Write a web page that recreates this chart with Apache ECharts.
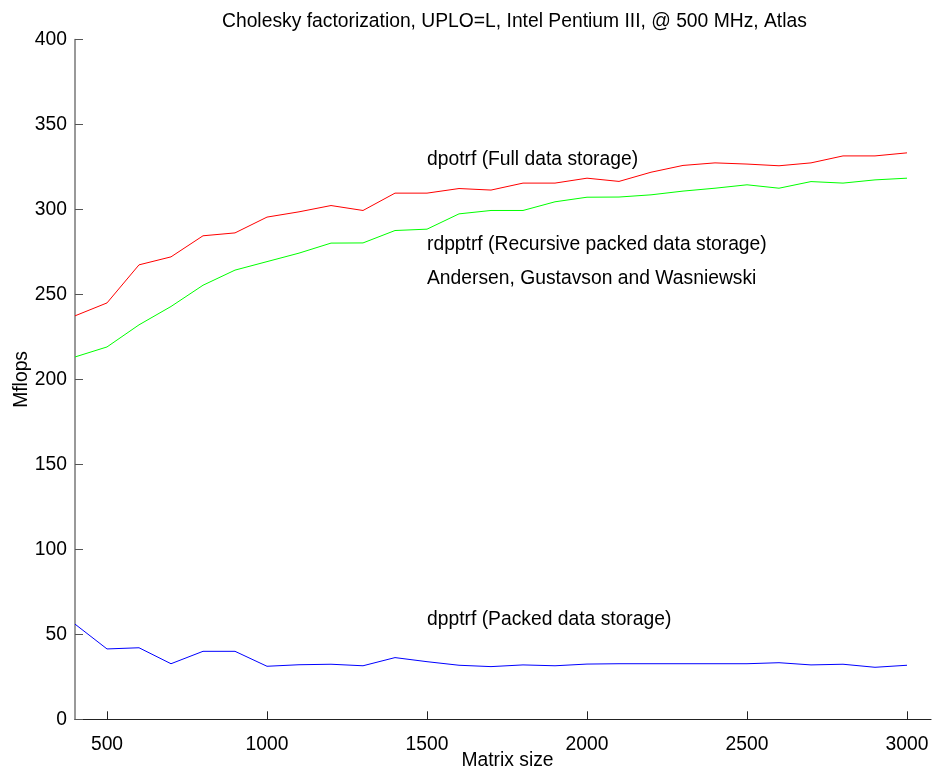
<!DOCTYPE html>
<html>
<head>
<meta charset="utf-8">
<script src="https://cdn.jsdelivr.net/npm/echarts@6/dist/echarts.min.js"></script>
<style>html,body{margin:0;padding:0;background:#fff;}#c{width:932px;height:770px;}</style>
</head>
<body>
<div id="c"></div>
<script>
const matrixSizes = [400,500,600,700,800,900,1000,1100,1200,1300,1400,1500,1600,1700,1800,1900,2000,2100,2200,2300,2400,2500,2600,2700,2800,2900,3000];
const dpotrf = [237.4,245.0,267.4,272.1,284.5,286.2,295.5,298.6,302.3,299.4,309.6,309.6,312.3,311.4,315.5,315.5,318.4,316.5,321.9,325.9,327.4,326.7,325.7,327.4,331.5,331.5,333.3];
const rdpptrf = [213.2,219.1,232.1,242.9,255.4,264.3,269.3,274.3,280.2,280.3,287.6,288.4,297.4,299.4,299.4,304.5,307.2,307.3,308.6,310.8,312.5,314.5,312.5,316.4,315.5,317.4,318.4];
const dpptrf = [56.0,41.4,42.1,32.7,40.0,40.0,31.2,32.1,32.4,31.5,36.3,33.9,31.8,31.0,32.0,31.5,32.5,32.7,32.7,32.7,32.7,32.7,33.3,32.0,32.4,30.6,31.8];
const xTicks = [500,1000,1500,2000,2500,3000];
const yTicks = [0,50,100,150,200,250,300,350,400];
const annotations = [
  {x:1500, y:329.5, text:'dpotrf (Full data storage)'},
  {x:1500, y:279.5, text:'rdpptrf (Recursive packed data storage)'},
  {x:1500, y:259.0, text:'Andersen, Gustavson and Wasniewski'},
  {x:1500, y:58.5, text:'dpptrf (Packed data storage)'}
];
const titleText = 'Cholesky factorization, UPLO=L, Intel Pentium III, @ 500 MHz, Atlas';

const FONT = 'Liberation Sans, Arial, Helvetica, sans-serif';
const FS = 19.3;
const chart = echarts.init(document.getElementById('c'), null, {renderer:'canvas'});
const pair = arr => matrixSizes.map((x,i)=>[x,arr[i]]);
chart.setOption({
  animation:false,
  backgroundColor:'#fff',
  title:{text:titleText, left:217, top:7, textStyle:{fontFamily:FONT, fontSize:FS, fontWeight:'normal', color:'#000'}},
  grid:{left:75, right:1, top:39.5, bottom:50.7, containLabel:false, outerBoundsMode:'none'},
  xAxis:{type:'value', min:400, max:3075,
    name:'Matrix size', nameLocation:'middle', nameGap:32, nameMoveOverlap:false,
    nameTextStyle:{fontFamily:FONT, fontSize:FS, color:'#000', padding:[0,0,0,9]},
    axisLine:{show:true, lineStyle:{color:'#222', width:1.2}},
    axisTick:{show:true, inside:true, length:8, customValues:xTicks, lineStyle:{color:'#222'}},
    axisLabel:{customValues:xTicks, formatter:v=>String(v), fontFamily:FONT, fontSize:FS, color:'#000', margin:16},
    splitLine:{show:false}},
  yAxis:{type:'value', min:0, max:400, interval:50,
    name:'Mflops', nameLocation:'middle', nameGap:44, nameRotate:90, nameMoveOverlap:false,
    nameTextStyle:{fontFamily:FONT, fontSize:FS, color:'#000'},
    axisLine:{show:true, lineStyle:{color:'#777', width:1.5}},
    axisTick:{show:true, inside:true, length:8, lineStyle:{color:'#555'}},
    axisLabel:{formatter:v=>String(v), fontFamily:FONT, fontSize:FS, color:'#000', margin:8},
    splitLine:{show:false}},
  series:[
    {type:'line', data:pair(dpotrf), symbol:'none', lineStyle:{color:'#ff0000', width:1}, itemStyle:{color:'#ff0000'}},
    {type:'line', data:pair(rdpptrf), symbol:'none', lineStyle:{color:'#00ff00', width:1}, itemStyle:{color:'#00ff00'}},
    {type:'line', data:pair(dpptrf), symbol:'none', lineStyle:{color:'#0000ff', width:1}, itemStyle:{color:'#0000ff'}},
    {type:'scatter', symbolSize:0, silent:true,
      data:annotations.map(a=>({value:[a.x,a.y], name:a.text})),
      label:{show:true, position:'right', distance:0, formatter:p=>p.name, fontFamily:FONT, fontSize:FS, color:'#000', opacity:1}}
  ]
});
</script>
</body>
</html>
